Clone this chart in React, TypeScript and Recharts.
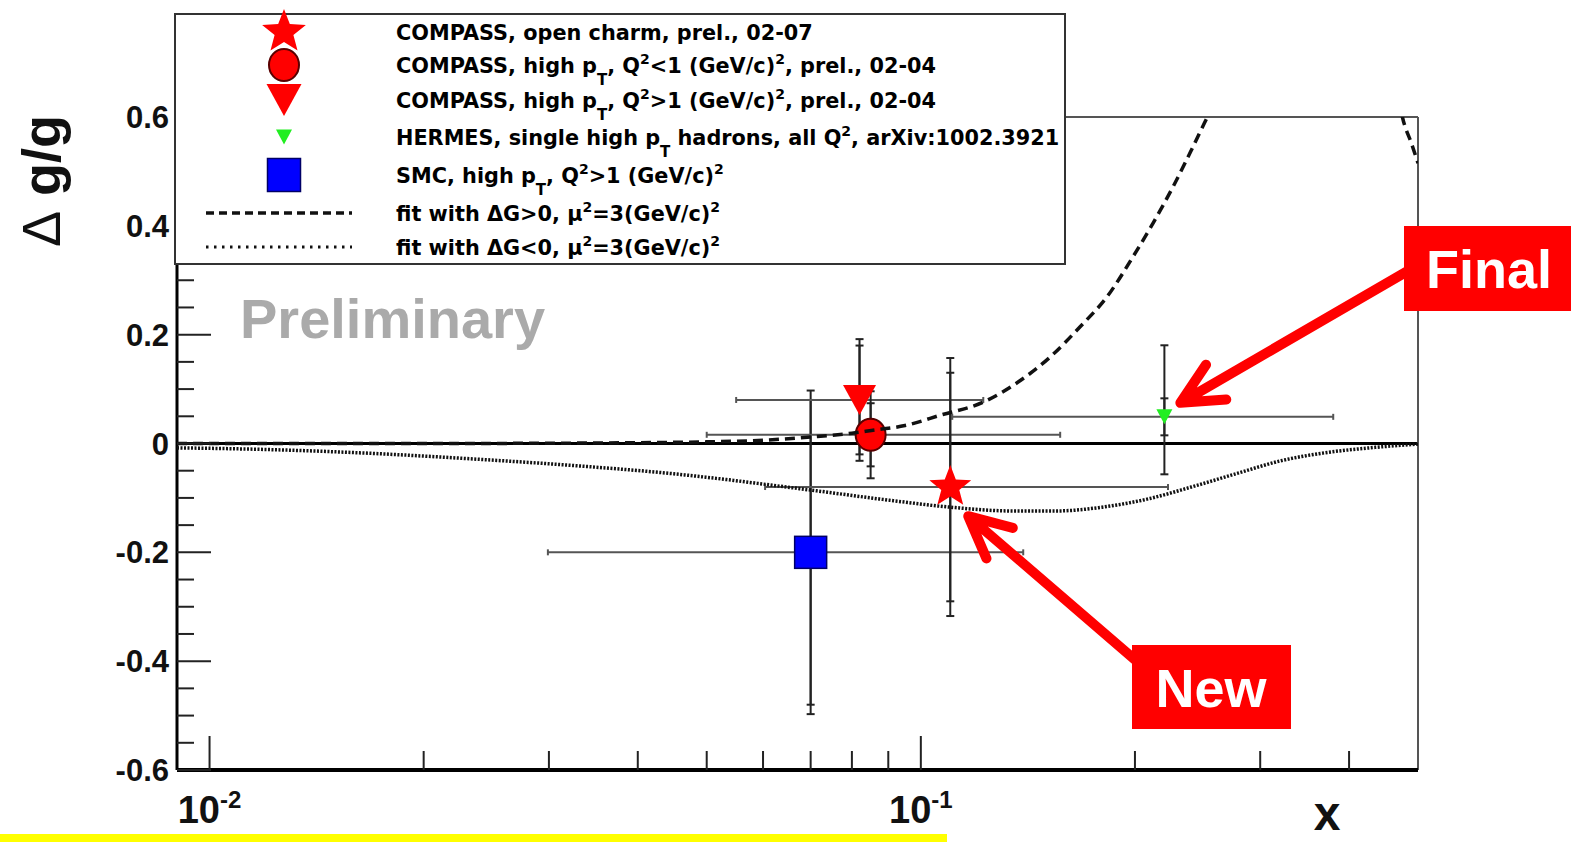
import React from 'react';
import {
  ComposedChart,
  Line,
  Scatter,
  XAxis,
  YAxis,
  ErrorBar,
  ReferenceLine,
  Legend,
} from 'recharts';

const W = 1571;
const H = 842;
const SANS = '"Liberation Sans", Arial, Helvetica, sans-serif';
const LEGEND_FONT = '"DejaVu Sans", Verdana, sans-serif';

// Δg/g measurements: central x, y, horizontal x-range, stat and syst errors
const openCharm = [{ x: 0.11, y: -0.08, xMin: 0.0604, xMax: 0.2226, stat: 0.21, sysDown: 0.11, sysUp: 0.11 }];
const highPtLowQ2 = [{ x: 0.085, y: 0.016, xMin: 0.05, xMax: 0.157, stat: 0.058, sysDown: 0.055, sysUp: 0.055 }];
const highPtHighQ2 = [{ x: 0.082, y: 0.08, xMin: 0.055, xMax: 0.1224, stat: 0.1, sysDown: 0.05, sysUp: 0.05 }];
const hermes = [{ x: 0.22, y: 0.049, xMin: 0.1107, xMax: 0.38, stat: 0.034, sysDown: 0.1, sysUp: 0.127 }];
const smc = [{ x: 0.07, y: -0.2, xMin: 0.0299, xMax: 0.1393, stat: 0.28, sysDown: 0.1, sysUp: 0.1 }];

// NLO fits, mu^2 = 3 (GeV/c)^2
const fitPositive = [
  { x: 0.009, y: 0 }, { x: 0.02, y: 0 }, { x: 0.03, y: 0.0005 }, { x: 0.04, y: 0.0015 },
  { x: 0.05, y: 0.003 }, { x: 0.06, y: 0.006 }, { x: 0.07, y: 0.012 }, { x: 0.08, y: 0.019 },
  { x: 0.0852, y: 0.024 }, { x: 0.095, y: 0.033 }, { x: 0.1065, y: 0.052 }, { x: 0.1224, y: 0.076 },
  { x: 0.1367, y: 0.112 }, { x: 0.152, y: 0.159 }, { x: 0.1676, y: 0.215 }, { x: 0.1828, y: 0.27 },
  { x: 0.1989, y: 0.344 }, { x: 0.2123, y: 0.406 }, { x: 0.2265, y: 0.473 }, { x: 0.2417, y: 0.547 },
  { x: 0.2529, y: 0.6 }, { x: 0.2638, y: 0.645 }, { x: 0.3, y: 0.82 }, { x: 0.35, y: 0.98 },
  { x: 0.4, y: 1.0 }, { x: 0.44, y: 0.85 }, { x: 0.46, y: 0.71 }, { x: 0.4754, y: 0.6 },
  { x: 0.49, y: 0.55 }, { x: 0.5, y: 0.515 },
];
const fitNegative = [
  { x: 0.009, y: -0.008 }, { x: 0.012, y: -0.011 }, { x: 0.0168, y: -0.018 }, { x: 0.0232, y: -0.028 },
  { x: 0.0321, y: -0.04 }, { x: 0.0444, y: -0.055 }, { x: 0.0704, y: -0.086 }, { x: 0.09, y: -0.104 },
  { x: 0.11, y: -0.117 }, { x: 0.1346, y: -0.124 }, { x: 0.155, y: -0.124 }, { x: 0.1799, y: -0.117 },
  { x: 0.21, y: -0.101 }, { x: 0.24, y: -0.08 }, { x: 0.28, y: -0.054 }, { x: 0.3202, y: -0.032 },
  { x: 0.37, y: -0.017 }, { x: 0.428, y: -0.008 }, { x: 0.5, y: -0.001 },
];

const xTicks = [0.01, 0.02, 0.03, 0.04, 0.05, 0.06, 0.07, 0.08, 0.09, 0.1, 0.2, 0.3, 0.4];
const yMajorTicks = [-0.6, -0.4, -0.2, 0, 0.2, 0.4, 0.6];
const yTicks: number[] = [];
for (let k = -12; k <= 12; k++) yTicks.push(k * 0.05);

const legendLabels = [
  'COMPASS, open charm, prel., 02-07',
  'COMPASS, high p_{T}, Q^{2}<1 (GeV/c)^{2}, prel., 02-04',
  'COMPASS, high p_{T}, Q^{2}>1 (GeV/c)^{2}, prel., 02-04',
  'HERMES, single high p_{T} hadrons, all Q^{2}, arXiv:1002.3921',
  'SMC, high p_{T}, Q^{2}>1 (GeV/c)^{2}',
  'fit with \u0394G>0, \u03bc^{2}=3(GeV/c)^{2}',
  'fit with \u0394G<0, \u03bc^{2}=3(GeV/c)^{2}',
];
const legendRowY = [17, 50, 85, 122, 160, 198, 232];

const toPoints = (series: typeof openCharm) =>
  series.map((p) => ({
    x: p.x,
    y: p.y,
    xErr: [p.x - p.xMin, p.xMax - p.x],
    yStat: [p.stat, p.stat],
    yTot: [Math.hypot(p.stat, p.sysDown), Math.hypot(p.stat, p.sysUp)],
  }));

// ---------- markers ----------
const RED = '#ff0000';

function starPoints(cx: number, cy: number, R: number, r: number) {
  const pts: string[] = [];
  for (let i = 0; i < 10; i++) {
    const rad = i % 2 === 0 ? R : r;
    const a = -Math.PI / 2 + (i * Math.PI) / 5;
    pts.push(`${cx + rad * Math.cos(a)},${cy + rad * Math.sin(a)}`);
  }
  return pts.join(' ');
}
const StarMark = ({ cx, cy, R = 22 }: any) => (
  <polygon points={starPoints(cx, cy, R, R * 0.43)} fill={RED} />
);
const CircleMark = ({ cx, cy, s = 1 }: any) => (
  <ellipse cx={cx} cy={cy} rx={15 * s} ry={16 * s} fill={RED} stroke="#5a0000" strokeWidth={2} />
);
const TriDownMark = ({ cx, cy, w = 33, h = 30, fill = RED }: any) => (
  <polygon points={`${cx - w / 2},${cy - h / 2} ${cx + w / 2},${cy - h / 2} ${cx},${cy + h / 2}`} fill={fill} />
);
const SquareMark = ({ cx, cy, s = 32 }: any) => (
  <rect x={cx - s / 2} y={cy - s / 2} width={s} height={s} fill="#0000ff" stroke="#000066" strokeWidth={1.5} />
);

// ---------- text helpers ----------
function latex(s: string) {
  const out: React.ReactNode[] = [];
  let buf = '';
  let i = 0;
  while (i < s.length) {
    if ((s[i] === '_' || s[i] === '^') && s[i + 1] === '{') {
      if (buf) { out.push(buf); buf = ''; }
      const end = s.indexOf('}', i);
      const inner = s.slice(i + 2, end);
      const sub = s[i] === '_';
      out.push(
        <span
          key={i}
          style={{ fontSize: sub ? 15 : 14, position: 'relative', top: sub ? 12 : -9 }}
        >
          {inner}
        </span>,
      );
      i = end + 1;
    } else {
      buf += s[i];
      i++;
    }
  }
  if (buf) out.push(buf);
  return out;
}

const legendIcons = [
  <StarMark cx={40} cy={24} R={23} />,
  <CircleMark cx={40} cy={24} s={1.0} />,
  <TriDownMark cx={40} cy={24} w={35} h={32} />,
  <TriDownMark cx={40} cy={24} w={16} h={15} fill="#22ee22" />,
  <SquareMark cx={40} cy={24} s={33} />,
];

const renderLegend = () => (
  <div
    style={{
      position: 'relative',
      boxSizing: 'border-box',
      width: 892,
      height: 252,
      border: '2px solid #333',
      background: '#fff',
    }}
  >
    {legendLabels.map((lab, i) => (
      <React.Fragment key={i}>
        <svg
          width={180}
          height={48}
          style={{ position: 'absolute', left: 20, top: legendRowY[i] - 24, overflow: 'visible' }}
        >
          {i < 5 && <g transform="translate(48,0)">{legendIcons[i]}</g>}
          {i === 5 && (
            <line x1={10} x2={156} y1={24} y2={24} stroke="#111" strokeWidth={3.5} strokeDasharray="8 5" />
          )}
          {i === 6 && (
            <line x1={10} x2={156} y1={24} y2={24} stroke="#111" strokeWidth={3} strokeDasharray="2.5 5.5" />
          )}
        </svg>
        <div
          style={{
            position: 'absolute',
            left: 220,
            top: legendRowY[i] - 11.5,
            whiteSpace: 'nowrap',
            fontFamily: LEGEND_FONT,
            fontWeight: 'bold',
            fontSize: 20.8,
            lineHeight: '24px',
            color: '#000',
          }}
        >
          {latex(lab)}
        </div>
      </React.Fragment>
    ))}
  </div>
);

// ---------- axes ----------
const fmtY = (v: number) => (Math.abs(v) < 1e-9 ? '0' : v.toFixed(1));

const YTick = (props: any) => {
  const { x, y, payload } = props;
  const v = payload.value as number;
  const major = yMajorTicks.some((m) => Math.abs(m - v) < 1e-6);
  return (
    <g>
      <line x1={x} x2={x + (major ? 34 : 17)} y1={y} y2={y} stroke="#222" strokeWidth={2} />
      {major && (
        <text x={x - 8} y={y + 11} textAnchor="end" fontFamily={SANS} fontWeight="bold" fontSize={31} fill="#111">
          {fmtY(v)}
        </text>
      )}
    </g>
  );
};

const XTick = (props: any) => {
  const { x, y, payload } = props;
  const v = payload.value as number;
  const e = Math.log10(v);
  const major = Math.abs(e - Math.round(e)) < 1e-9;
  return (
    <g>
      <line x1={x} x2={x} y1={y} y2={y - (major ? 34 : 19)} stroke="#222" strokeWidth={2} />
      {major && (
        <text x={x} y={y + 53} textAnchor="middle" fontFamily={SANS} fontWeight="bold" fontSize={38} fill="#111">
          10
          <tspan dy={-15} fontSize={24}>{String(Math.round(e))}</tspan>
        </text>
      )}
    </g>
  );
};

const renderYTitle = (props: any) => {
  const vb = props.viewBox || { x: 0, y: 117 };
  return (
    <text
      transform={`translate(${vb.x + 60},${vb.y + 64}) rotate(-90)`}
      textAnchor="middle"
      fontFamily={SANS}
      fontWeight="bold"
      fontSize={54}
      fill="#111"
    >
      <tspan fontWeight="normal">{'\u0394'}</tspan> g/g
    </text>
  );
};

const renderXTitle = (props: any) => {
  const vb = props.viewBox || { x: 177, y: 770 };
  return (
    <text x={vb.x + 1150} y={vb.y + 60} textAnchor="middle" fontFamily={SANS} fontWeight="bold" fontSize={48} fill="#111">
      x
    </text>
  );
};

// annotation arrow: tail (x1,y1) -> tip (x2,y2) with an open V head
const ArrowShape = (props: any) => {
  const { x1, y1, x2, y2 } = props;
  const ang = Math.atan2(y1 - y2, x1 - x2);
  const L = 46;
  const sp = (26 * Math.PI) / 180;
  const ax = x2 + L * Math.cos(ang + sp);
  const ay = y2 + L * Math.sin(ang + sp);
  const bx = x2 + L * Math.cos(ang - sp);
  const by = y2 + L * Math.sin(ang - sp);
  return (
    <path
      d={`M${x1},${y1}L${x2},${y2}M${ax},${ay}L${x2},${y2}L${bx},${by}`}
      fill="none"
      stroke={RED}
      strokeWidth={10}
      strokeLinecap="round"
      strokeLinejoin="round"
    />
  );
};

const seriesErrors = () => [
  <ErrorBar key="ex" dataKey="xErr" direction="x" width={3} stroke="#555" strokeWidth={2} isAnimationActive={false} />,
  <ErrorBar key="et" dataKey="yTot" direction="y" width={4} stroke="#222" strokeWidth={2} isAnimationActive={false} />,
  <ErrorBar key="es" dataKey="yStat" direction="y" width={4} stroke="#222" strokeWidth={2} isAnimationActive={false} />,
];

export default function App() {
  return (
    <div style={{ position: 'absolute', left: 0, top: 0, width: W, height: H, background: '#fff', overflow: 'hidden' }}>
      <ComposedChart width={W} height={H} margin={{ top: 117, right: 153, bottom: 0, left: 0 }}>
        <XAxis
          dataKey="x"
          type="number"
          scale="log"
          domain={[0.009, 0.5]}
          allowDataOverflow
          ticks={xTicks}
          interval={0}
          tick={<XTick />}
          tickLine={false}
          tickSize={0}
          tickMargin={0}
          height={72}
          axisLine={{ stroke: '#000', strokeWidth: 4 }}
          label={renderXTitle}
        />
        <YAxis
          dataKey="y"
          type="number"
          domain={[-0.6, 0.6]}
          allowDataOverflow
          ticks={yTicks}
          interval={0}
          tick={<YTick />}
          tickLine={false}
          tickSize={0}
          tickMargin={0}
          width={177}
          axisLine={{ stroke: '#000', strokeWidth: 3 }}
          label={renderYTitle}
        />
        <ReferenceLine y={0.6} stroke="#555" strokeWidth={2} />
        <ReferenceLine x={0.5} stroke="#555" strokeWidth={2} />
        <ReferenceLine y={0} stroke="#000" strokeWidth={3} zIndex={50} />

        <Scatter data={toPoints(smc)} dataKey="y" isAnimationActive={false} shape={(p: any) => <SquareMark cx={p.cx} cy={p.cy} />}>
          {seriesErrors()}
        </Scatter>
        <Scatter data={toPoints(hermes)} dataKey="y" isAnimationActive={false} shape={(p: any) => <TriDownMark cx={p.cx} cy={p.cy} w={16} h={15} fill="#22ee22" />}>
          {seriesErrors()}
        </Scatter>
        <Scatter data={toPoints(highPtHighQ2)} dataKey="y" isAnimationActive={false} shape={(p: any) => <TriDownMark cx={p.cx} cy={p.cy} />}>
          {seriesErrors()}
        </Scatter>
        <Scatter data={toPoints(highPtLowQ2)} dataKey="y" isAnimationActive={false} shape={(p: any) => <CircleMark cx={p.cx} cy={p.cy} />}>
          {seriesErrors()}
        </Scatter>
        <Scatter data={toPoints(openCharm)} dataKey="y" isAnimationActive={false} shape={(p: any) => <StarMark cx={p.cx} cy={p.cy} />}>
          {seriesErrors()}
        </Scatter>

        <Line
          data={fitPositive}
          dataKey="y"
          type="monotone"
          stroke="#111"
          strokeWidth={3.5}
          strokeDasharray="10 6"
          dot={false}
          activeDot={false}
          isAnimationActive={false}
          zIndex={650}
        />
        <Line
          data={fitNegative}
          dataKey="y"
          type="monotone"
          stroke="#111"
          strokeWidth={3.5}
          strokeDasharray="2 1.5"
          dot={false}
          activeDot={false}
          isAnimationActive={false}
          zIndex={650}
        />

        <ReferenceLine segment={[{ x: 0.488, y: 0.32 }, { x: 0.2317, y: 0.0747 }]} shape={ArrowShape} zIndex={900} />
        <ReferenceLine segment={[{ x: 0.2069, y: -0.4138 }, { x: 0.1166, y: -0.1336 }]} shape={ArrowShape} zIndex={900} />

        <Legend
          content={renderLegend}
          layout="vertical"
          align="center"
          verticalAlign="middle"
          wrapperStyle={{ left: 174, top: 13, width: 892, height: 252 }}
        />
      </ComposedChart>

      <svg width={W} height={H} style={{ position: 'absolute', left: 0, top: 0, pointerEvents: 'none' }}>
        <text x={240} y={338} fontFamily={SANS} fontWeight="bold" fontSize={56} fill="#aaaaaa">
          Preliminary
        </text>
        <rect x={1404} y={226} width={167} height={85} fill={RED} />
        <text x={1489} y={288} textAnchor="middle" fontFamily={SANS} fontWeight="bold" fontSize={54} fill="#fff">
          Final
        </text>
        <rect x={1132} y={645} width={159} height={84} fill={RED} />
        <text x={1211} y={707} textAnchor="middle" fontFamily={SANS} fontWeight="bold" fontSize={54} fill="#fff">
          New
        </text>
        <rect x={0} y={834} width={947} height={8} fill="#ffff00" />
      </svg>
    </div>
  );
}
